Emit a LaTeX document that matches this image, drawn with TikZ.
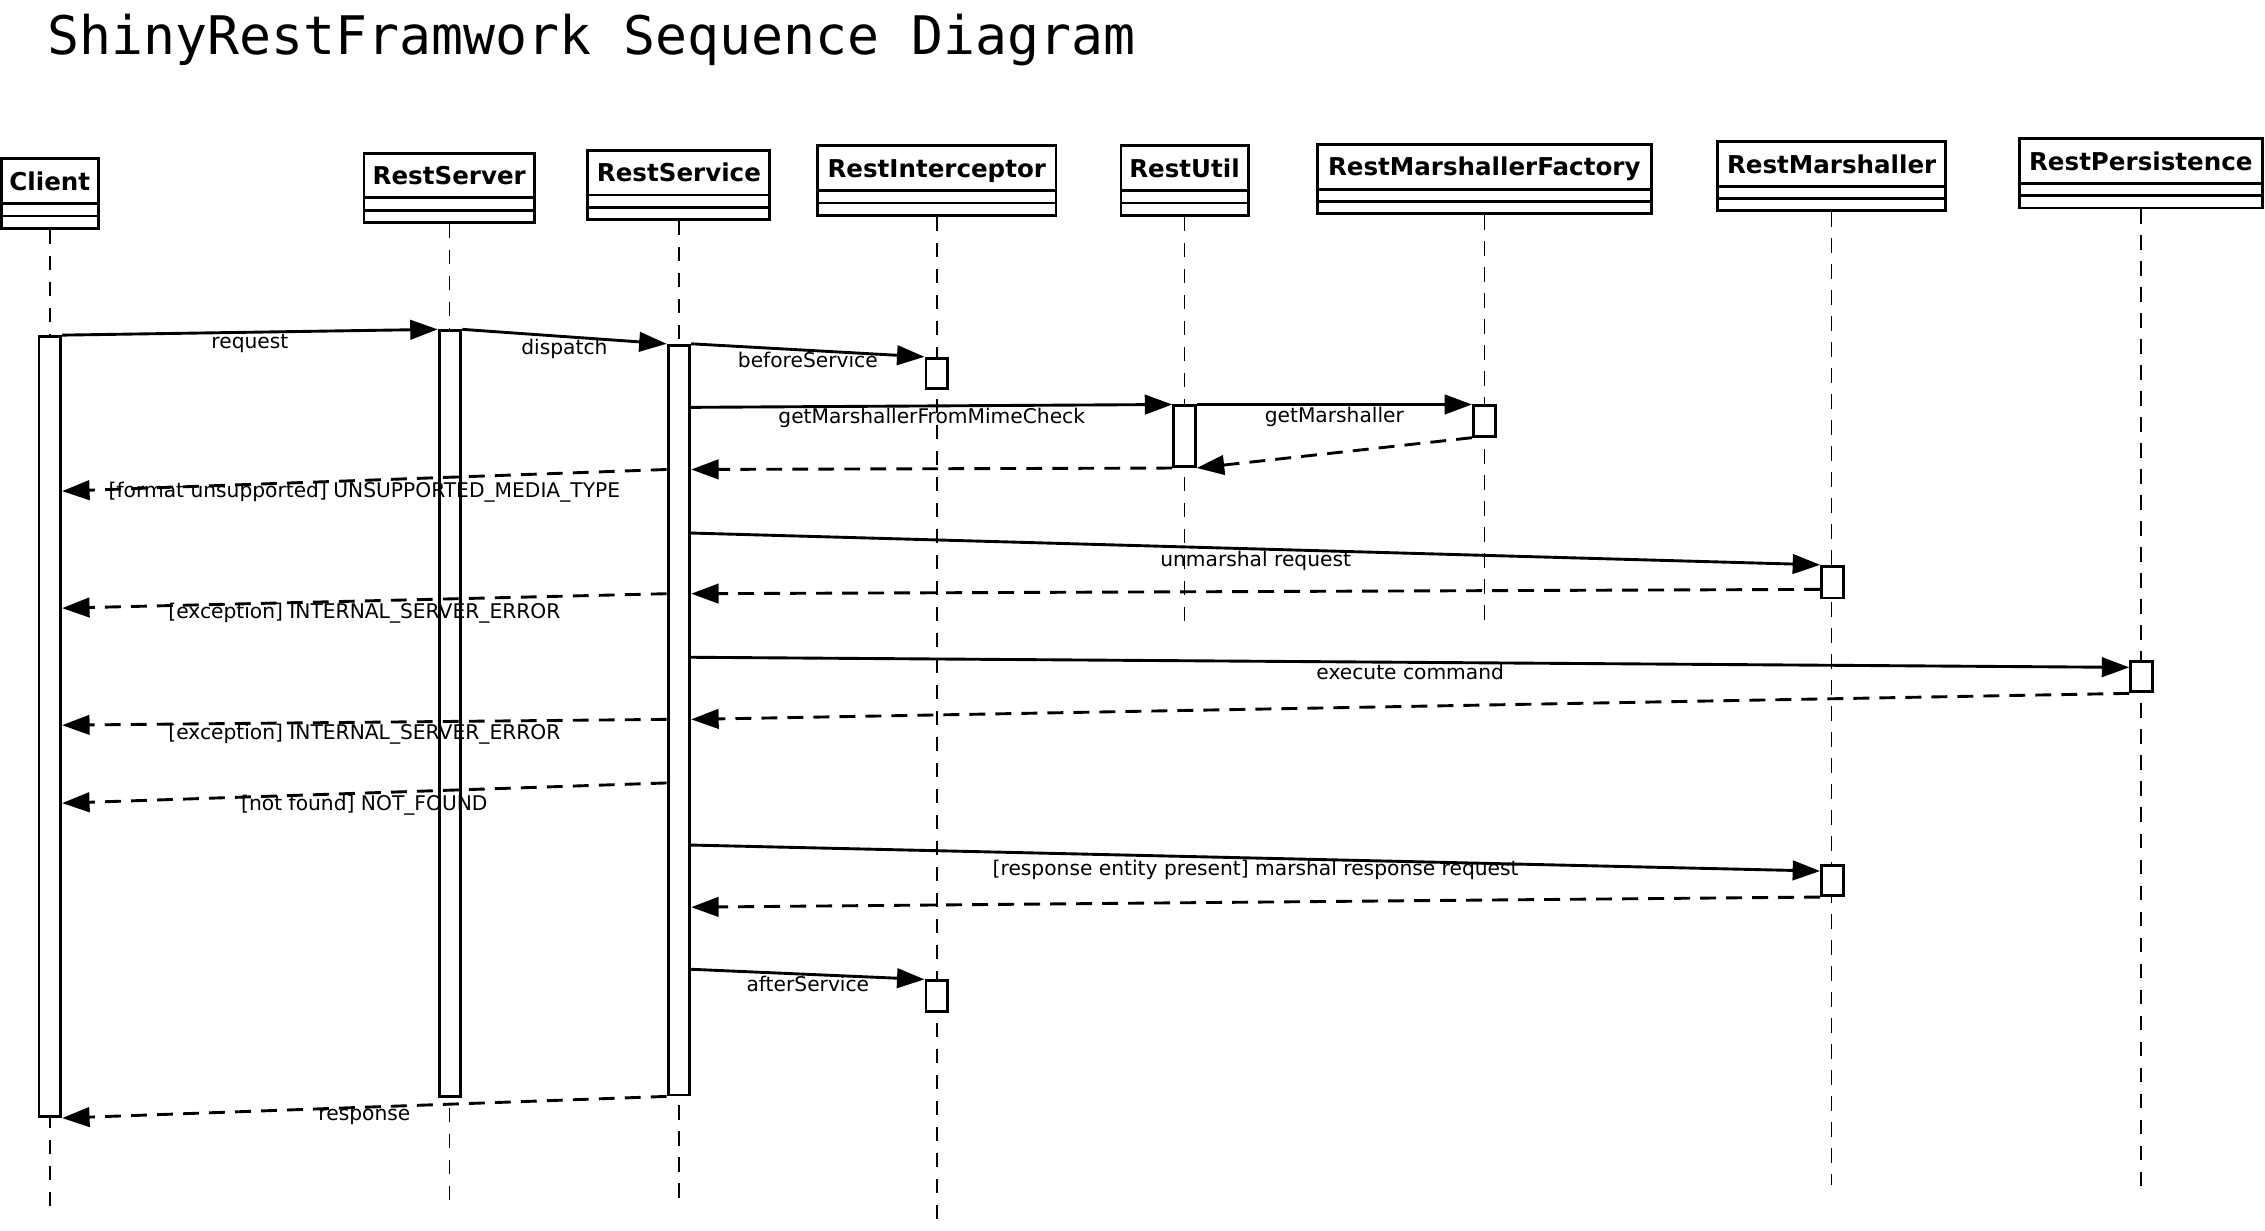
\documentclass[tikz,border=0pt]{standalone}
\usepackage{fontspec}
\setmainfont{DejaVu Sans}
\newfontfamily\titlefont{DejaVu Sans Mono}
\usetikzlibrary{arrows.meta}

\tikzset{
  head/.style={draw, line width=2pt, anchor=north, inner sep=0pt,
    text height=21.8pt, text depth=26.2pt,
    font=\fontsize{17}{20}\selectfont\bfseries,
    path picture={
      \draw[line width=2pt] ([yshift=17pt]path picture bounding box.south west) -- ([yshift=17pt]path picture bounding box.south east);
      \draw[line width=2pt] ([yshift=8.5pt]path picture bounding box.south west) -- ([yshift=8.5pt]path picture bounding box.south east);}},
  act/.style={draw, fill=white, line width=2pt, minimum width=15, inner sep=0pt, anchor=north},
  lifeline/.style={line width=1pt, dash pattern=on 10pt off 8pt},
  msg/.style={line width=2pt, -{Triangle[length=19pt,width=13.5pt]}},
  ret/.style={msg, dash pattern=on 11pt off 7pt},
  lbl/.style={font=\fontsize{14}{16}\selectfont, inner sep=0.5pt, below, midway}
}

\begin{document}
\begin{tikzpicture}[x=1pt,y=1pt]
  \useasboundingbox (0,0) rectangle (1568,-852);
  \node[font=\titlefont\fontsize{36.8}{40}\selectfont, anchor=base west, inner sep=0pt] at (33,-38) (title) {ShinyRestFramwork Sequence Diagram};

  % objects
  \node[head, minimum width=67]  at (34.5,-109)  (client)  {Client};
  \node[head, minimum width=118] at (311,-105)   (rserver) {RestServer};
  \node[head, minimum width=126] at (470,-103)   (rservice) {RestService};
  \node[head, minimum width=165] at (648.5,-100) (rinter)  {RestInterceptor};
  \node[head, minimum width=88]  at (820,-100)   (rutil)   {RestUtil};
  \node[head, minimum width=231] at (1027.5,-99) (rfact)   {RestMarshallerFactory};
  \node[head, minimum width=158] at (1268,-97)   (rmarsh)  {RestMarshaller};
  \node[head, minimum width=168] at (1482,-95)   (rpers)   {RestPersistence};

  % lifelines
  \coordinate (eClient)  at (34.5,-835);
  \coordinate (eServer)  at (311,-838);
  \coordinate (eService) at (470,-836);
  \coordinate (eInter)   at (648.5,-847);
  \coordinate (eUtil)    at (820,-435);
  \coordinate (eFact)    at (1027.5,-432);
  \coordinate (eMarsh)   at (1268,-820);
  \coordinate (ePers)    at (1482,-827);
  \draw[lifeline] (client.south) -- (eClient);
  \draw[lifeline] (rserver.south) -- (eServer);
  \draw[lifeline] (rservice.south) -- (eService);
  \draw[lifeline] (rinter.south) -- (eInter);
  \draw[lifeline] (rutil.south) -- (eUtil);
  \draw[lifeline] (rfact.south) -- (eFact);
  \draw[lifeline] (rmarsh.south) -- (eMarsh);
  \draw[lifeline] (rpers.south) -- (ePers);

  % activations
  \node[act, minimum height=540] at (34.5,-232)  (aClient)  {};
  \node[act, minimum height=530] at (311.5,-228) (aServer)  {};
  \node[act, minimum height=519] at (470,-238)   (aService) {};
  \node[act, minimum height=21]  at (648.5,-247) (aInter1)  {};
  \node[act, minimum height=21]  at (648.5,-678) (aInter2)  {};
  \node[act, minimum height=42]  at (820,-280)   (aUtil)    {};
  \node[act, minimum height=21]  at (1027.5,-280) (aFact)   {};
  \node[act, minimum height=22]  at (1268.5,-391) (aMarsh1) {};
  \node[act, minimum height=21]  at (1268.5,-598) (aMarsh2) {};
  \node[act, minimum height=21]  at (1482.5,-457) (aPers)   {};

  % messages
  \draw[msg] (aClient.north east) -- node[lbl] (lRequest) {request} (aServer.north west);
  \draw[msg] (aServer.north east) -- node[lbl] (lDispatch) {dispatch} (aService.north west);
  \draw[msg] (aService.north east) -- node[lbl] (lBefore) {beforeService} (aInter1.north west);
  \draw[msg] ([yshift=-44pt]aService.north east) -- node[lbl] (lMime) {getMarshallerFromMimeCheck} (aUtil.north west);
  \draw[msg] (aUtil.north east) -- node[lbl] (lGet) {getMarshaller} (aFact.north west);
  \draw[ret] (aFact.south west) -- (aUtil.south east);
  \draw[ret] (aUtil.south west) -- ([yshift=-87pt]aService.north east);
  \draw[ret] ([yshift=-87pt]aService.north west) -- node[lbl] (lUnsup) {[format unsupported] UNSUPPORTED\_MEDIA\_TYPE} ([yshift=-108pt]aClient.north east);
  \draw[msg] ([yshift=-131pt]aService.north east) -- node[lbl] (lUnmarsh) {unmarshal request} (aMarsh1.north west);
  \draw[ret] ([yshift=-17pt]aMarsh1.north west) -- ([yshift=-173pt]aService.north east);
  \draw[ret] ([yshift=-173pt]aService.north west) -- node[lbl] (lErr1) {[exception] INTERNAL\_SERVER\_ERROR} ([yshift=-189pt]aClient.north east);
  \draw[msg] ([yshift=-217pt]aService.north east) -- node[lbl] (lExec) {execute command} ([yshift=-5pt]aPers.north west);
  \draw[ret] (aPers.south west) -- ([yshift=-260pt]aService.north east);
  \draw[ret] ([yshift=-260pt]aService.north west) -- node[lbl] (lErr2) {[exception] INTERNAL\_SERVER\_ERROR} ([yshift=-270pt]aClient.north east);
  \draw[ret] ([yshift=-304pt]aService.north west) -- node[lbl] (lNotFound) {[not found] NOT\_FOUND} ([yshift=-324pt]aClient.north east);
  \draw[msg] ([yshift=-347pt]aService.north east) -- node[lbl] (lMarsh) {[response entity present] marshal response request} ([yshift=-5pt]aMarsh2.north west);
  \draw[ret] (aMarsh2.south west) -- ([yshift=-390pt]aService.north east);
  \draw[msg] ([yshift=-433pt]aService.north east) -- node[lbl] (lAfter) {afterService} (aInter2.north west);
  \draw[ret] (aService.south west) -- node[lbl] (lResponse) {response} (aClient.south east);
\end{tikzpicture}
\end{document}
